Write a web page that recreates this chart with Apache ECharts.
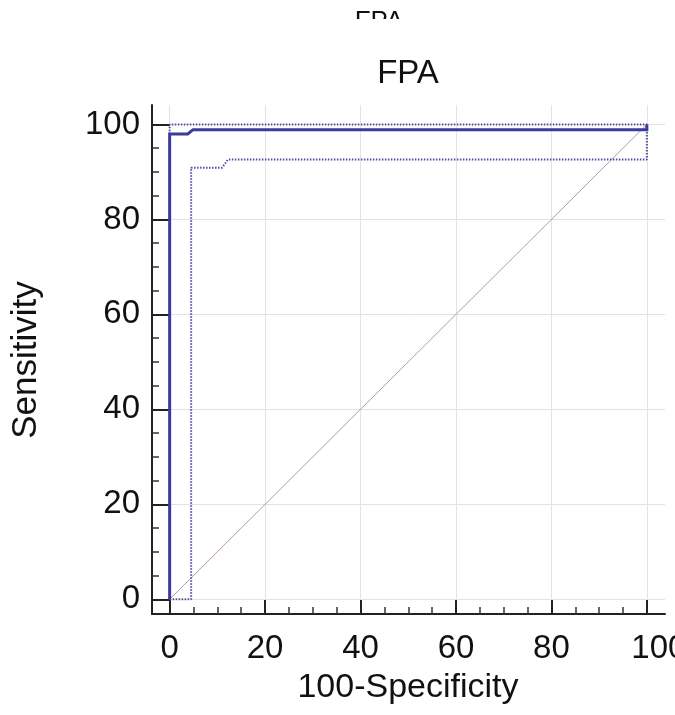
<!DOCTYPE html>
<html>
<head>
<meta charset="utf-8">
<script src="https://cdn.jsdelivr.net/npm/echarts@6/dist/echarts.min.js"></script>
<style>
html,body{margin:0;padding:0;background:#fff;}
#chart{width:675px;height:715px;}
</style>
</head>
<body>
<div id="chart"></div>
<script>
// ---- data ----
const titleText = 'FPA';
const xName = '100-Specificity';
const yName = 'Sensitivity';
const majorTicks = [0, 20, 40, 60, 80, 100];
const minorTicks = [5, 10, 15, 25, 30, 35, 45, 50, 55, 65, 70, 75, 85, 90, 95];
const rocX = [0, 0, 3.8, 4.9, 100, 100];
const rocY = [0, 98.0, 98.0, 98.9, 98.9, 100];
const upperX = [0, 0, 100, 100];
const upperY = [0, 100, 100, 98.9];
const lowerX = [0, 4.5, 4.5, 11.0, 12.2, 100, 100];
const lowerY = [0, 0, 90.9, 90.9, 92.6, 92.6, 100];
const diagX = [0, 100];
const diagY = [0, 100];

const pairs = (xs, ys) => xs.map((x, i) => [x, ys[i]]);

const FONT = 'Liberation Sans, Arial, sans-serif';
const axisMin = { x: -3.7, y: -3.1 };
const axisMax = { x: 103.8, y: 104.1 };

const chart = echarts.init(document.getElementById('chart'), null, { renderer: 'canvas' });

const option = {
  backgroundColor: '#ffffff',
  animation: false,
  grid: { left: 152, right: 10, top: 105, bottom: 101, containLabel: false, outerBoundsMode: 'none' },
  xAxis: [
    {
      type: 'value', position: 'bottom',
      min: axisMin.x, max: axisMax.x,
      axisLine: { show: true, onZero: false, lineStyle: { color: '#222', width: 2 } },
      axisTick: { show: true, inside: true, length: 14, customValues: majorTicks, lineStyle: { color: '#222', width: 2 } },
      axisLabel: {
        show: true, customValues: majorTicks, margin: 18, hideOverlap: false,
        color: '#111', fontSize: 33, fontFamily: FONT,
        formatter: v => (v === 100 ? '{r|100}' : String(v)),
        rich: { r: { padding: [0, 0, 0, 24], color: '#111', fontSize: 33, fontFamily: FONT } }
      },
      splitLine: { show: true, lineStyle: { color: '#e2e2e2', width: 1 } }
    },
    {
      type: 'value', position: 'bottom',
      min: axisMin.x, max: axisMax.x,
      axisLine: { show: false, onZero: false },
      axisTick: { show: true, inside: true, length: 7, customValues: minorTicks, lineStyle: { color: '#333', width: 1.5 } },
      axisLabel: { show: false },
      splitLine: { show: false }
    }
  ],
  yAxis: [
    {
      type: 'value', position: 'left',
      min: axisMin.y, max: axisMax.y,
      axisLine: { show: true, onZero: false, lineStyle: { color: '#222', width: 2 } },
      axisTick: { show: true, inside: true, length: 18, customValues: majorTicks, lineStyle: { color: '#222', width: 2 } },
      axisLabel: { show: true, customValues: majorTicks, margin: 12, hideOverlap: false, color: '#111', fontSize: 33, fontFamily: FONT },
      splitLine: { show: true, lineStyle: { color: '#e2e2e2', width: 1 } }
    },
    {
      type: 'value', position: 'left',
      min: axisMin.y, max: axisMax.y,
      axisLine: { show: false, onZero: false },
      axisTick: { show: true, inside: true, length: 7, customValues: minorTicks, lineStyle: { color: '#333', width: 1.5 } },
      axisLabel: { show: false },
      splitLine: { show: false }
    }
  ],
  series: [
    {
      name: 'Reference', type: 'line', xAxisIndex: 0, yAxisIndex: 0,
      data: pairs(diagX, diagY), symbol: 'none', z: 2,
      lineStyle: { color: '#b89aac', width: 1 }
    },
    {
      name: 'Upper CI', type: 'line', xAxisIndex: 0, yAxisIndex: 0,
      data: pairs(upperX, upperY), symbol: 'none', z: 3,
      lineStyle: { color: '#4e4ea8', width: 2, type: [1.5, 1.5] }
    },
    {
      name: 'Lower CI', type: 'line', xAxisIndex: 0, yAxisIndex: 0,
      data: pairs(lowerX, lowerY), symbol: 'none', z: 3,
      lineStyle: { color: '#4e4ea8', width: 2, type: [1.5, 1.5] }
    },
    {
      name: 'ROC', type: 'line', xAxisIndex: 0, yAxisIndex: 0,
      data: pairs(rocX, rocY), symbol: 'none', z: 4,
      lineStyle: { color: '#3b3b9e', width: 3, join: 'miter' }
    }
  ],
  graphic: [
    {
      type: 'text', x: 379, y: 22, z: 1,
      style: { text: titleText, fill: '#111', fontSize: 26, fontFamily: FONT, align: 'center', verticalAlign: 'middle' }
    },
    {
      type: 'rect', shape: { x: 320, y: 19, width: 140, height: 30 }, z: 2,
      style: { fill: '#ffffff' }
    },
    {
      type: 'text', x: 408, y: 74,
      style: { text: titleText, fill: '#111', fontSize: 33, fontFamily: FONT, align: 'center', verticalAlign: 'middle' }
    },
    {
      type: 'text', x: 408, y: 688,
      style: { text: xName, fill: '#111', fontSize: 34, fontFamily: FONT, align: 'center', verticalAlign: 'middle' }
    },
    {
      type: 'text', x: 26, y: 360, rotation: Math.PI / 2,
      style: { text: yName, fill: '#111', fontSize: 35, fontFamily: FONT, align: 'center', verticalAlign: 'middle' }
    }
  ]
};
chart.setOption(option);
</script>
</body>
</html>
